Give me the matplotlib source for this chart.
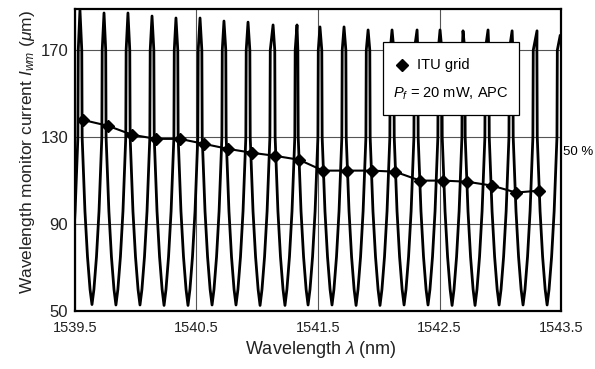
import matplotlib
matplotlib.use("Agg")
import matplotlib.pyplot as plt
from matplotlib.patches import Rectangle

plt.rcParams["font.family"] = ["Liberation Sans", "DejaVu Sans"]
plt.rcParams["mathtext.fontset"] = "custom"
plt.rcParams["mathtext.rm"] = "Liberation Sans"
plt.rcParams["mathtext.it"] = "Liberation Sans:italic"

# ITU grid operating points (nm, uA)
itu_nm = [1539.566, 1539.772, 1539.969, 1540.167, 1540.364, 1540.562, 1540.759,
          1540.957, 1541.146, 1541.344, 1541.541, 1541.739, 1541.944, 1542.134,
          1542.340, 1542.529, 1542.726, 1542.932, 1543.130, 1543.319]
itu_val = [137.9, 135.2, 131.1, 129.2, 129.2, 126.9, 124.6, 122.8, 121.4, 119.6,
           114.6, 114.6, 114.6, 114.1, 110.0, 110.0, 109.5, 107.7, 104.5, 105.4]

# wavelength monitor sweep: peaks and troughs
peak_nm = [1539.541, 1539.739, 1539.936, 1540.134, 1540.331, 1540.529, 1540.726,
           1540.924, 1541.130, 1541.327, 1541.516, 1541.714, 1541.912, 1542.109,
           1542.315, 1542.504, 1542.693, 1542.899, 1543.097, 1543.302, 1543.492]
peak_val = [188.5, 187.1, 187.1, 185.7, 184.8, 184.8, 183.4, 182.9, 181.6, 181.6,
            180.7, 180.7, 179.3, 179.3, 179.3, 179.3, 178.9, 179.3, 178.9, 178.9, 176.6]
trough_nm = [1539.443, 1539.640, 1539.837, 1540.035, 1540.233, 1540.430, 1540.628,
             1540.825, 1541.023, 1541.228, 1541.418, 1541.615, 1541.813, 1542.010,
             1542.208, 1542.405, 1542.603, 1542.792, 1542.990, 1543.187, 1543.385]
trough_val = [53.0, 53.0, 52.8, 52.8, 52.6, 52.6, 52.8, 52.8, 52.6, 52.6, 52.8,
              52.8, 52.6, 52.6, 52.8, 52.8, 52.6, 52.6, 52.8, 52.8, 52.8]

# flank shape around each trough (level, half width in nm)
flank_level = [170, 130, 96, 75, 60]
flank_hw = [0.084, 0.081, 0.058, 0.037, 0.016]

xs, ys = [], []
for i, t in enumerate(trough_nm):
    for lv, hw in zip(flank_level, flank_hw):
        xs.append(t - hw)
        ys.append(lv)
    xs.append(t)
    ys.append(trough_val[i])
    for lv, hw in zip(flank_level[::-1], flank_hw[::-1]):
        xs.append(t + hw)
        ys.append(lv)
    xs.append(peak_nm[i])
    ys.append(peak_val[i])

fig = plt.figure(figsize=(5.95, 3.69), dpi=100)
ax = fig.add_axes([0.126, 0.157, 0.817, 0.819])

ax.plot(xs, ys, color="black", lw=2.0, solid_joinstyle="round", zorder=3)
ax.plot(itu_nm, itu_val, color="black", lw=1.5, marker="D", markersize=6.5, zorder=4)

ax.set_xlim(1539.5, 1543.5)
ax.set_ylim(50, 189)
ax.set_xticks([1539.5, 1540.5, 1541.5, 1542.5, 1543.5])
ax.set_xticklabels(["1539.5", "1540.5", "1541.5", "1542.5", "1543.5"])
ax.set_yticks([50, 90, 130, 170])
ax.tick_params(length=0, colors="#222222")
ax.tick_params(axis="x", pad=7, labelsize=10.5)
ax.tick_params(axis="y", pad=5, labelsize=12)
ax.grid(True, color="#555555", lw=0.8, zorder=1)
for s in ax.spines.values():
    s.set_linewidth(1.6)
    s.set_zorder(6)

ax.set_xlabel(r"Wavelength $\lambda$ (nm)", fontsize=13, color="#222222")
ax.set_ylabel(r"Wavelength monitor current $I_{wm}$ ($\mu$m)", fontsize=12.5, color="#222222")
ax.xaxis.set_label_coords(0.505, -0.126)
ax.xaxis.label.set_va("center")
ax.yaxis.set_label_coords(-0.097, 0.526)
ax.yaxis.label.set_va("center")

ax.text(1.004, 0.525, "50 %", transform=ax.transAxes, fontsize=9.5,
        va="center", ha="left", clip_on=False)

# legend box
ax.add_patch(Rectangle((0.634, 0.649), 0.280, 0.242, transform=ax.transAxes,
                       facecolor="white", edgecolor="black", lw=0.9, zorder=5))
ax.plot([0.673], [0.815], transform=ax.transAxes, marker="D", markersize=6.5,
        color="black", zorder=6)
ax.text(0.704, 0.815, "ITU grid", transform=ax.transAxes, fontsize=10.5,
        va="center", ha="left", zorder=6)
ax.text(0.654, 0.719, r"$P_f$ = 20 mW, APC", transform=ax.transAxes, fontsize=10.5,
        va="center", ha="left", zorder=6)

fig.savefig("out.png", dpi=100)
